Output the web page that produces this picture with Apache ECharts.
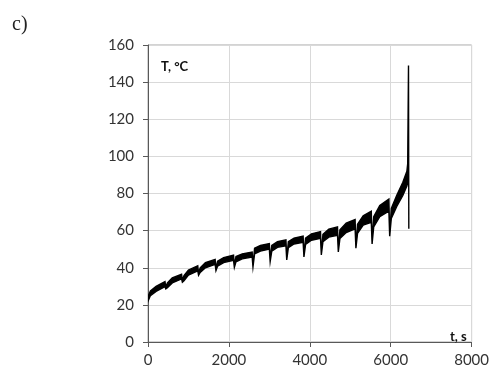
<!DOCTYPE html>
<html>
<head>
<meta charset="utf-8">
<script src="https://cdn.jsdelivr.net/npm/echarts@6/dist/echarts.min.js"></script>
<style>
  html, body { margin: 0; padding: 0; background: #fff; }
  #chart { width: 492px; height: 378px; }
</style>
</head>
<body>
<div id="chart"></div>
<script>
// Time samples (s) with upper and lower bounds of the oscillating temperature band (°C)
const timeS = [
  0, 60, 200, 420, 440, 480, 600, 830, 850, 890, 1000, 1230, 1250, 1290, 1420, 1660, 1680,
  1720, 1870, 2115, 2135, 2175, 2330, 2575, 2595, 2635, 2780, 3000, 3020, 3060, 3200, 3410,
  3430, 3470, 3610, 3835, 3855, 3895, 4040, 4265, 4285, 4325, 4470, 4685, 4705, 4745, 4900,
  5120, 5140, 5180, 5320, 5520, 5540, 5580, 5730, 5955, 5975, 6015, 6150, 6300, 6400, 6420,
  6440, 6448
];
const upperT = [
  24.5, 27.5, 30, 32.5, 29.6, 31.8, 34.5, 36.5, 33.2, 35.8, 38.8, 41, 37, 40, 42.8, 44.5, 39.5,
  43.5, 45.5, 46.8, 41.2, 46, 47.5, 48.5, 41.4, 50.5, 52, 53, 44.3, 52, 54, 55,
  45.2, 54, 56, 57, 46.8, 56, 58.3, 59.5, 47.9, 58, 60.8, 62, 49.5, 60.5, 64,
  66, 51.5, 63.5, 68, 70.5, 53.8, 67.5, 73.5, 77, 58, 72, 79, 86, 92, 96,
  149, 61
];
const lowerT = [
  22, 25, 27.3, 29.8, 28.6, 29.2, 31.8, 34, 32.2, 33, 36, 38.3, 36, 37.5, 40, 41.8, 38.5,
  40.8, 42.8, 44, 40.2, 43.2, 44.8, 45.8, 40.4, 47.5, 49, 50, 43.3, 49, 51, 51.8,
  44.2, 50.8, 52.8, 53.7, 45.8, 52.5, 54.8, 55.8, 46.9, 54, 56.5, 57.5, 48.5, 55.8, 59,
  61, 50.5, 58.5, 63, 64.5, 52.8, 62, 67.5, 70.5, 57, 66.5, 73, 79, 84, 86,
  148, 61
];
const xTicks = { min: 0, max: 8000, step: 2000 };
const yTicks = { min: 0, max: 160, step: 20 };

const labelFont = { fontFamily: 'Lato', fontSize: 15, color: '#333333' };

// The band is one closed polygon: along the upper bound, then back along the lower bound.
function renderBand(params, api) {
  const pts = [];
  for (let i = 0; i < timeS.length; i++) pts.push(api.coord([timeS[i], upperT[i]]));
  for (let i = timeS.length - 1; i >= 0; i--) pts.push(api.coord([timeS[i], lowerT[i]]));
  return {
    type: 'polygon',
    shape: { points: pts },
    style: { fill: '#000', stroke: '#000', lineWidth: 1.4, lineJoin: 'miter' }
  };
}

const chart = echarts.init(document.getElementById('chart'), null, { renderer: 'canvas' });
chart.setOption({
  animation: false,
  backgroundColor: '#ffffff',
  grid: {
    left: 148, right: 19, top: 45, bottom: 36,
    show: true, borderColor: '#a6a6a6', borderWidth: 1, backgroundColor: 'transparent'
  },
  title: [
    { text: 'c)', left: 7, top: 10, textStyle: { fontFamily: 'Liberation Serif', fontSize: 20, fontWeight: 'normal', color: '#222' } },
    { text: 'T, °C', left: 156, top: 55, textStyle: { fontFamily: 'Lato', fontSize: 13, fontWeight: 'bold', color: '#111' } },
    { text: 't, s', left: 445, top: 325, textStyle: { fontFamily: 'Lato', fontSize: 13, fontWeight: 'bold', color: '#111' } }
  ],
  xAxis: {
    type: 'value', min: xTicks.min, max: xTicks.max, interval: xTicks.step,
    axisLine: { show: true, onZero: false, lineStyle: { color: '#595959', width: 1 } },
    axisTick: { show: true, length: 5, lineStyle: { color: '#595959' } },
    axisLabel: Object.assign({ margin: 11, formatter: v => String(v) }, labelFont),
    splitLine: { show: true, lineStyle: { color: '#d9d9d9', width: 1 } }
  },
  yAxis: {
    type: 'value', min: yTicks.min, max: yTicks.max, interval: yTicks.step,
    axisLine: { show: true, onZero: false, lineStyle: { color: '#595959', width: 1 } },
    axisTick: { show: true, length: 5, lineStyle: { color: '#595959' } },
    axisLabel: Object.assign({ margin: 14, formatter: v => String(v) }, labelFont),
    splitLine: { show: true, lineStyle: { color: '#d9d9d9', width: 1 } }
  },
  series: [
    {
      name: 'T', type: 'custom', renderItem: renderBand,
      data: [[timeS[0], lowerT[0]]], clip: true, silent: true
    }
  ]
});
</script>
</body>
</html>
